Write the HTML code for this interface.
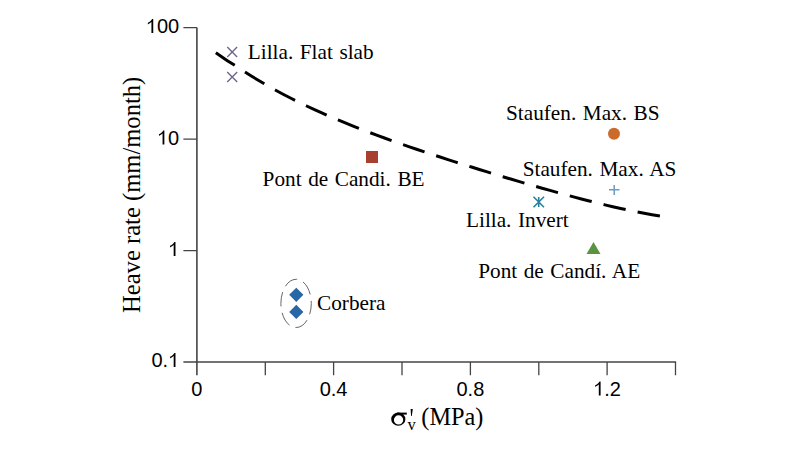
<!DOCTYPE html>
<html><head><meta charset="utf-8">
<style>
html,body{margin:0;padding:0;background:#fff;width:800px;height:450px;overflow:hidden}
svg{display:block}
.tk{font-family:"Liberation Sans",sans-serif;font-size:20px;fill:#000}
.lb{font-family:"Liberation Serif",serif;font-size:21.25px;word-spacing:1.25px;fill:#000}
.ti{font-family:"Liberation Serif",serif;font-size:24px;fill:#000}
</style></head>
<body>
<svg width="800" height="450" viewBox="0 0 800 450">
<rect width="800" height="450" fill="#fff"/>
<!-- axes -->
<g stroke="#444" fill="none">
<path d="M196.9,27.6 V375.2" stroke-width="1.6"/>
<path d="M196.1,362 H676.1" stroke-width="1.6"/>
<path d="M183.4,27.6 H196.9 M183.4,139.1 H196.9 M183.4,250.6 H196.9 M183.4,362 H196.9" stroke-width="1.3"/>
<path d="M265.3,362 V375.2 M333.6,362 V375.2 M402,362 V375.2 M470.4,362 V375.2 M538.8,362 V375.2 M607.1,362 V375.2 M675.5,362 V375.2" stroke-width="1.3"/>
</g>
<!-- y tick labels -->
<g fill="#000">
<path transform="translate(145.84,33.1)" d="M5.6,0 H7.4 V-14.0 H6.25 C5.7,-12.7 4.2,-11.3 2,-10.3 V-8.7 C3.4,-9.3 4.8,-10.2 5.6,-11 Z"/>
<path transform="translate(156.96,144.6)" d="M5.6,0 H7.4 V-14.0 H6.25 C5.7,-12.7 4.2,-11.3 2,-10.3 V-8.7 C3.4,-9.3 4.8,-10.2 5.6,-11 Z"/>
<path transform="translate(168.08,256.1)" d="M5.6,0 H7.4 V-14.0 H6.25 C5.7,-12.7 4.2,-11.3 2,-10.3 V-8.7 C3.4,-9.3 4.8,-10.2 5.6,-11 Z"/>
<path transform="translate(168.08,367.1)" d="M5.6,0 H7.4 V-14.0 H6.25 C5.7,-12.7 4.2,-11.3 2,-10.3 V-8.7 C3.4,-9.3 4.8,-10.2 5.6,-11 Z"/>
<path transform="translate(593.2,395.6)" d="M5.6,0 H7.4 V-14.0 H6.25 C5.7,-12.7 4.2,-11.3 2,-10.3 V-8.7 C3.4,-9.3 4.8,-10.2 5.6,-11 Z"/>
</g>
<g class="tk">
<text x="156.96" y="33.1">00</text>
<text x="168.08" y="144.6">0</text>
<text x="151.40" y="367.1">0.</text>
</g>
<!-- x tick labels -->
<g class="tk" text-anchor="middle">
<text x="196.9" y="395.6">0</text>
<text x="333.6" y="395.6">0.4</text>
<text x="470.4" y="395.6">0.8</text>
</g>
<text class="tk" x="604.32" y="395.6">.2</text>
<!-- axis titles -->
<text class="ti" style="font-size:24.6px" transform="translate(140,313) rotate(-90)">Heave rate (mm/month)</text>
<g fill="#000">
<path fill-rule="evenodd" d="M391.2,419.2 a7.1,6.6 0 1,0 14.2,0 a7.1,6.6 0 1,0 -14.2,0 Z M393.9,419.95 a4.65,4.65 0 1,0 9.3,0 a4.65,4.65 0 1,0 -9.3,0 Z"/>
<path d="M397,412.6 H406.8 V414.6 H397 Z"/>
<path d="M410.6,409 L412.8,409 L411.8,416 L411.1,416 Z"/>
</g>
<text class="ti" x="407.5" y="430.2" style="font-size:16.5px">v</text>
<text class="ti" x="421.3" y="425" style="font-size:24.3px">(MPa)</text>
<!-- dashed curve -->
<path d="M215.85,52.85 L218.73,54.85 L221.61,56.81 L224.49,58.74 L227.36,60.64 L230.24,62.51 L233.12,64.34 L236.00,66.15 L243.85,71.31 L251.70,76.26 L259.55,81.02 L267.40,85.58 L275.25,89.97 L283.10,94.20 L290.95,98.27 L298.80,102.20 L306.65,105.99 L314.50,109.65 L322.35,113.19 L330.20,116.63 L338.05,119.97 L345.90,123.21 L353.75,126.36 L361.60,129.44 L369.45,132.44 L377.30,135.38 L385.15,138.25 L393.00,141.07 L400.85,143.83 L408.70,146.55 L416.55,149.23 L424.40,151.87 L432.25,154.47 L440.10,157.04 L447.95,159.59 L455.80,162.10 L463.65,164.59 L471.50,167.05 L479.35,169.49 L487.20,171.91 L495.05,174.31 L502.90,176.69 L510.75,179.04 L518.60,181.37 L526.45,183.68 L534.30,185.95 L542.15,188.21 L550.00,190.43 L557.85,192.61 L565.70,194.76 L573.55,196.88 L581.40,198.94 L589.25,200.96 L597.10,202.93 L604.95,204.84 L612.80,206.69 L620.65,208.46 L628.50,210.16 L636.35,211.78 L644.20,213.31 L652.05,214.75 L659.90,216.08" fill="none" stroke="#000" stroke-width="3" stroke-dasharray="22.65 12.23"/>
<!-- markers -->
<g stroke="#67678a" stroke-width="1.35" fill="none">
<path d="M227.3,47.1 L237.1,56.9 M237.1,47.1 L227.3,56.9"/>
<path d="M227.2,72.1 L237.2,82.1 M237.2,72.1 L227.2,82.1"/>
</g>
<rect x="366" y="151" width="12" height="12" fill="#a8402f"/>
<circle cx="614" cy="133.7" r="6" fill="#cc6a2c"/>
<path d="M614.2,185 V195 M609,189.7 H619.5" stroke="#6f9cc4" stroke-width="1.5"/>
<path d="M533.5,196.7 L544,207.2 M544,196.7 L533.5,207.2 M538.7,197 V207" stroke="#2580a0" stroke-width="1.6"/>
<path d="M593.5,242 L586.5,254 L600.5,254 Z" fill="#5b9440"/>
<ellipse cx="296.1" cy="303.4" rx="15.2" ry="24.1" fill="none" stroke="#555" stroke-width="0.9" stroke-dasharray="14.4 6.45" stroke-dashoffset="3.45"/>
<path d="M296.3,287.7 L303.4,294.8 L296.3,301.9 L289.2,294.8 Z" fill="#2866a6"/>
<path d="M296.3,304.8 L303.4,311.9 L296.3,319 L289.2,311.9 Z" fill="#2866a6"/>
<!-- labels -->
<g class="lb">
<text x="247.8" y="58.5">Lilla. Flat slab</text>
<text x="262.6" y="185.5">Pont de Candi. BE</text>
<text x="506" y="119.5">Staufen. Max. BS</text>
<text x="522.7" y="176.2">Staufen. Max. AS</text>
<text x="466" y="226.5">Lilla. Invert</text>
<text x="478.2" y="277.7">Pont de Candí. AE</text>
<text x="317" y="309.8">Corbera</text>
</g>
</svg>
</body></html>
